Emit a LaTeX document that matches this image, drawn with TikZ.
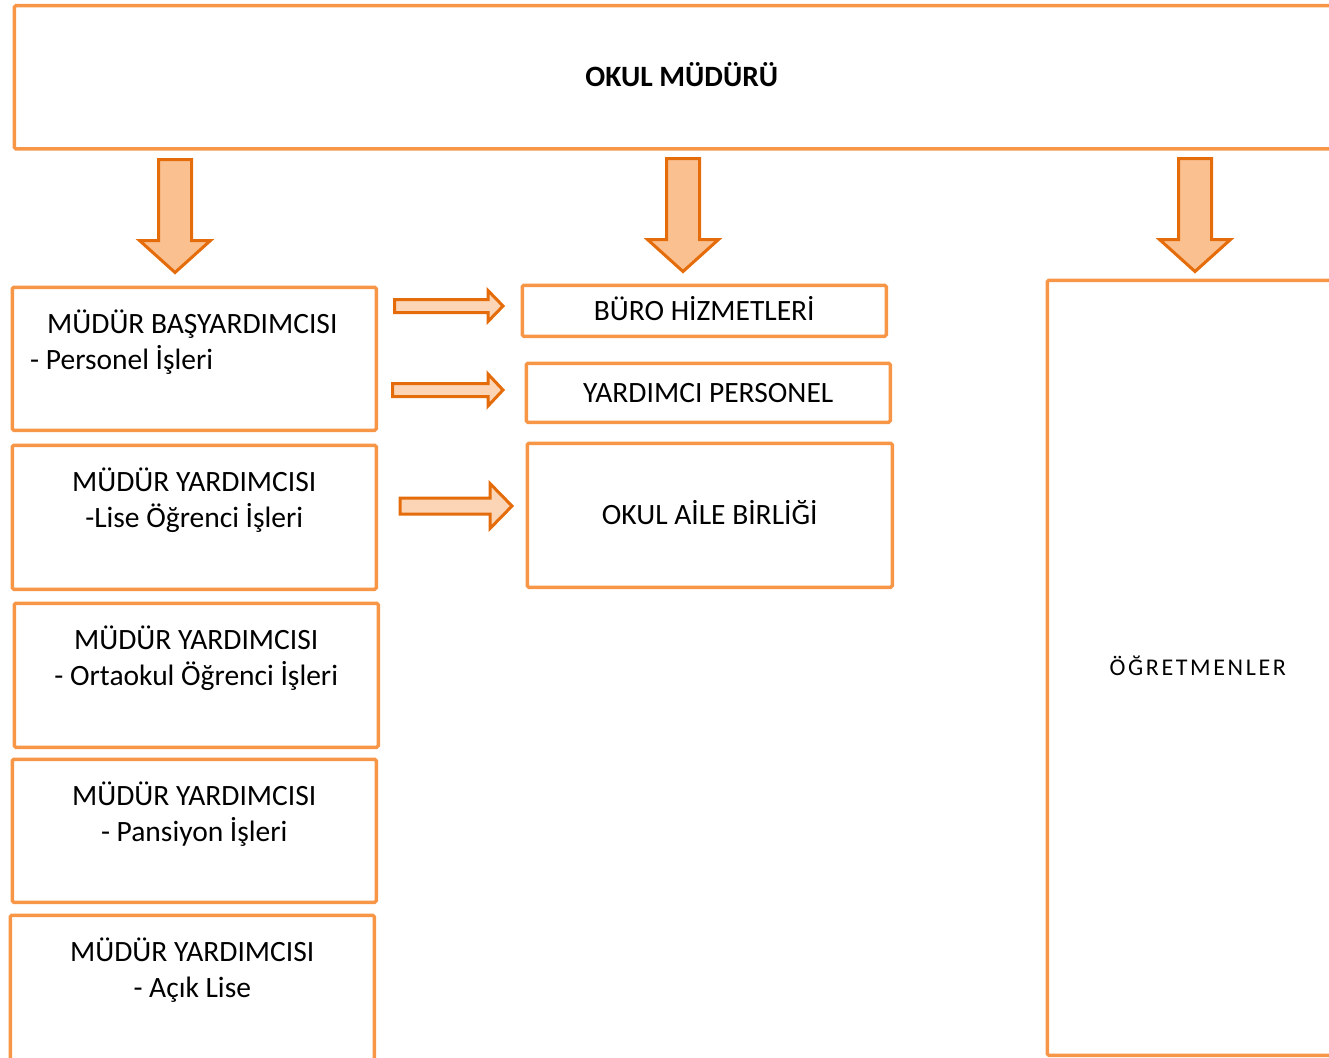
\documentclass[tikz,border=0pt]{standalone}
\usepackage{fontspec}
\setmainfont{Carlito}
\usetikzlibrary{positioning}

\definecolor{boxorange}{HTML}{F79646}
\definecolor{arrowedge}{HTML}{E46C0A}
\definecolor{arrowfill}{HTML}{FAC090}
\definecolor{arrowpale}{HTML}{FBD5B5}

\tikzset{
  orgbox/.style={draw=boxorange, line width=3.5pt, rounded corners=1.5pt,
    anchor=north west, inner sep=0pt},
  onetext/.style={font=\fontsize{29.5}{37}\selectfont, text height=19pt, text depth=0pt},
  boxtext/.style={inner sep=0pt, align=center, font=\fontsize{29.5}{36.5}\selectfont},
  downblock/.style={draw=arrowedge, fill=arrowfill, line width=3pt, line join=miter},
  rightblock/.style={draw=arrowedge, fill=arrowpale, line width=3pt, line join=miter},
  downarrow/.pic={
    \path[downblock] (-16.5,0) -- (16.5,0) -- (16.5,81) -- (35.5,81) -- (0,113)
      -- (-35.5,81) -- (-16.5,81) -- cycle;
  }
}

\begin{document}
\begin{tikzpicture}[x=1pt, y=-1pt]
  \useasboundingbox (0,0) rectangle (1329,1057);

  % head of school
  \node[orgbox, minimum width=1335pt, minimum height=143pt, onetext,
    font=\fontsize{29.5}{37}\selectfont\bfseries] (mudur) at (12.5,4) {OKUL MÜDÜRÜ};

  % assistants
  \node[orgbox, minimum width=364pt, minimum height=143pt] (bas) at (10.5,285.5) {};
  \node[orgbox, minimum width=364pt, minimum height=144pt] (lise) at (10.5,443.5) {};
  \node[orgbox, minimum width=364pt, minimum height=144pt] (orta) at (12.5,601.5) {};
  \node[orgbox, minimum width=364pt, minimum height=143pt] (pans) at (10.5,757.5) {};
  \node[orgbox, minimum width=364pt, minimum height=150pt] (acik) at (8.5,913.5) {};

  \node[boxtext, align=left, below right=24pt and 19.5pt of bas.north west] (basT)
    {\hspace*{17pt}MÜDÜR BAŞYARDIMCISI\\- Personel İşleri};
  \node[boxtext, below=24pt of lise.north] (liseT) {MÜDÜR YARDIMCISI\\-Lise Öğrenci İşleri};
  \node[boxtext, below=24pt of orta.north] (ortaT) {MÜDÜR YARDIMCISI\\- Ortaokul Öğrenci İşleri};
  \node[boxtext, below=24pt of pans.north] (pansT) {MÜDÜR YARDIMCISI\\- Pansiyon İşleri};
  \node[boxtext, below=24pt of acik.north] (acikT) {MÜDÜR YARDIMCISI\\- Açık Lise};

  % services
  \node[orgbox, minimum width=364pt, minimum height=51pt, onetext] (buro) at (520.5,283.5) {BÜRO HİZMETLERİ};
  \node[orgbox, minimum width=364pt, minimum height=59pt, onetext] (ydp) at (524.5,361.5) {YARDIMCI PERSONEL};
  \node[orgbox, minimum width=365pt, minimum height=144pt, onetext] (oab) at (525.5,441.5) {OKUL AİLE BİRLİĞİ};

  % teachers
  \node[orgbox, minimum width=301pt, minimum height=775pt, text height=15pt, text depth=0pt,
    font=\fontsize{24}{28}\selectfont\addfontfeature{LetterSpace=11}] (ogr) at (1045.5,278.5) {ÖĞRETMENLER};

  % block arrows
  \pic at (175,159.5) {downarrow};
  \pic at (683,158.5) {downarrow};
  \pic at (1195,158.5) {downarrow};

  \path[rightblock] (394.5,299.5) -- ++(93.5,0) -- ++(0,-9) -- ++(15,15.5) -- ++(-15,15.5)
    -- ++(0,-9) -- ++(-93.5,0) -- cycle;
  \path[rightblock] (392.5,383.5) -- ++(95.5,0) -- ++(0,-9.5) -- ++(15,16) -- ++(-15,16)
    -- ++(0,-9.5) -- ++(-95.5,0) -- cycle;
  \path[rightblock] (400,498) -- ++(90,0) -- ++(0,-14.5) -- ++(22,22.5) -- ++(-22,22.5)
    -- ++(0,-14.5) -- ++(-90,0) -- cycle;

\end{tikzpicture}
\end{document}
